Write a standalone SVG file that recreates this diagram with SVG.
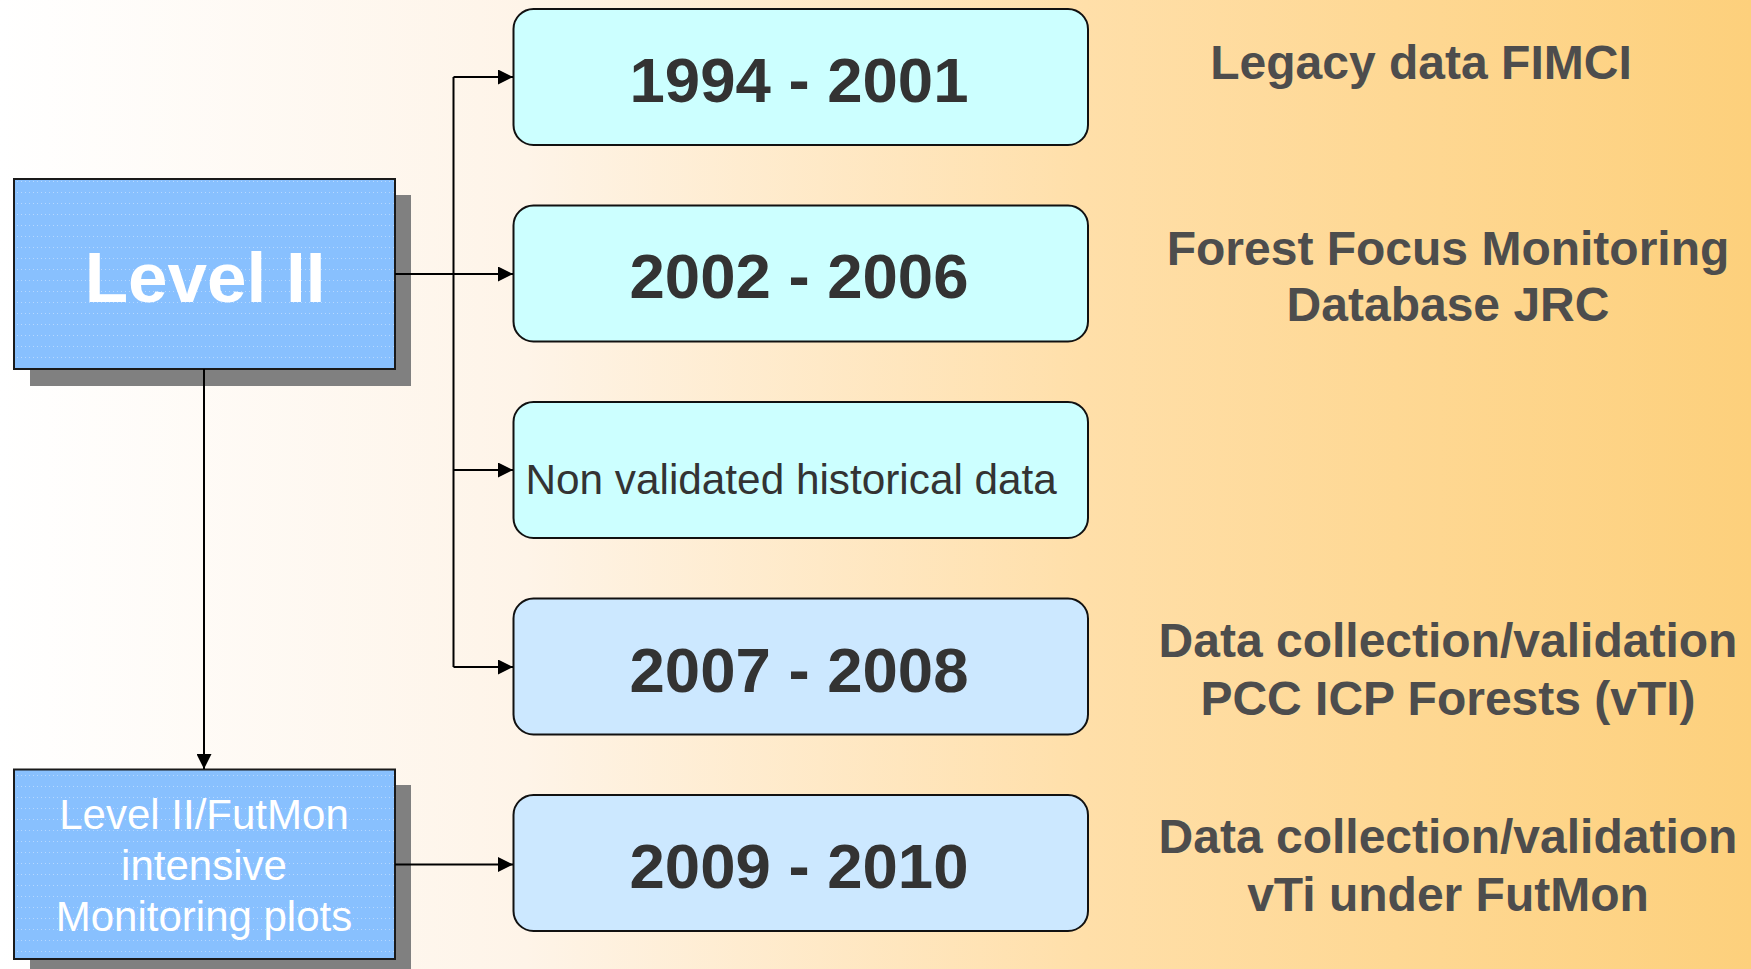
<svg xmlns="http://www.w3.org/2000/svg" width="1751" height="969" viewBox="0 0 1751 969">
<defs>
<linearGradient id="bg" x1="0" y1="0" x2="1" y2="0">
<stop offset="0" stop-color="#FFFFFF"/>
<stop offset="0.3" stop-color="#FEF4E8"/>
<stop offset="0.62" stop-color="#FFDFA9"/>
<stop offset="1" stop-color="#FDD07C"/>
</linearGradient>
<pattern id="dots" width="4" height="11" patternUnits="userSpaceOnUse">
<rect width="4" height="11" fill="#88C0FE"/>
<rect x="1" y="5" width="1" height="1" fill="#B6D8FF"/>
</pattern>
<marker id="arr" viewBox="0 0 15 15" refX="15" refY="7.5" markerWidth="15" markerHeight="15" markerUnits="userSpaceOnUse" orient="auto">
<path d="M0,0 L15,7.5 L0,15 Z" fill="#000"/>
</marker>
<style>
.sq{fill:url(#dots);stroke:#1a1a1a;stroke-width:2}
.sh{fill:#808080}
.rb{stroke:#111;stroke-width:2}
.c{fill:#CCFFFF}
.b{fill:#CCE8FF}
.yr{font-family:"Liberation Sans",Arial,sans-serif;font-weight:bold;font-size:63.5px;fill:#333333;text-anchor:middle}
.rt{font-family:"Liberation Sans",Arial,sans-serif;font-weight:bold;font-size:48px;fill:#4D4D4D;text-anchor:middle}
.wt{font-family:"Liberation Sans",Arial,sans-serif;fill:#FFFFFF;text-anchor:middle}
.ln{fill:none;stroke:#000;stroke-width:2}
</style>
</defs>
<rect x="0" y="0" width="1751" height="969" fill="url(#bg)"/>

<g id="level2">
<rect class="sh" x="30" y="195" width="381" height="191"/>
<rect class="sq" x="14" y="179" width="381" height="190"/>
<text class="wt" x="205" y="301.5" font-size="71" font-weight="bold">Level II</text>
</g>

<g id="futmon">
<rect class="sh" x="30" y="785" width="381" height="184"/>
<rect class="sq" x="14" y="769.5" width="381" height="189.5"/>
<text class="wt" x="204" y="829" font-size="42">Level II/FutMon</text>
<text class="wt" x="204" y="880" font-size="42">intensive</text>
<text class="wt" x="204" y="931" font-size="42">Monitoring plots</text>
</g>

<g id="box1">
<rect class="rb c" x="513.5" y="9" width="574.5" height="136" rx="20" ry="20"/>
<text class="yr" x="799" y="101.5">1994 - 2001</text>
</g>
<g id="box2">
<rect class="rb c" x="513.5" y="205.5" width="574.5" height="136" rx="20" ry="20"/>
<text class="yr" x="799" y="298">2002 - 2006</text>
</g>
<g id="box3">
<rect class="rb c" x="513.5" y="402" width="574.5" height="136" rx="20" ry="20"/>
<text x="525.5" y="493.5" font-family="Liberation Sans, Arial, sans-serif" font-size="42.3" fill="#333333">Non validated historical data</text>
</g>
<g id="box4">
<rect class="rb b" x="513.5" y="598.5" width="574.5" height="136" rx="20" ry="20"/>
<text class="yr" x="799" y="691.5">2007 - 2008</text>
</g>
<g id="box5">
<rect class="rb b" x="513.5" y="795" width="574.5" height="136" rx="20" ry="20"/>
<text class="yr" x="799" y="888">2009 - 2010</text>
</g>

<g id="labels">
<text class="rt" x="1421" y="78.5">Legacy data FIMCI</text>
<text class="rt" x="1448" y="264.5">Forest Focus Monitoring</text>
<text class="rt" x="1448" y="320.5">Database JRC</text>
<text class="rt" x="1448" y="656.5" font-size="47.5">Data collection/validation</text>
<text class="rt" x="1448" y="715" font-size="47.5">PCC ICP Forests (vTI)</text>
<text class="rt" x="1448" y="853" font-size="47.5">Data collection/validation</text>
<text class="rt" x="1448" y="911" font-size="47.5">vTi under FutMon</text>
</g>

<g id="connectors">
<line class="ln" x1="453.5" y1="77" x2="453.5" y2="667"/>
<line class="ln" x1="395" y1="274" x2="453.5" y2="274"/>
<line class="ln" x1="453.5" y1="77" x2="513" y2="77" marker-end="url(#arr)"/>
<line class="ln" x1="453.5" y1="274" x2="513" y2="274" marker-end="url(#arr)"/>
<line class="ln" x1="453.5" y1="470" x2="513" y2="470" marker-end="url(#arr)"/>
<line class="ln" x1="453.5" y1="667" x2="513" y2="667" marker-end="url(#arr)"/>
<line class="ln" x1="204" y1="369" x2="204" y2="769" marker-end="url(#arr)"/>
<line class="ln" x1="395" y1="864.5" x2="513" y2="864.5" marker-end="url(#arr)"/>
</g>
</svg>
